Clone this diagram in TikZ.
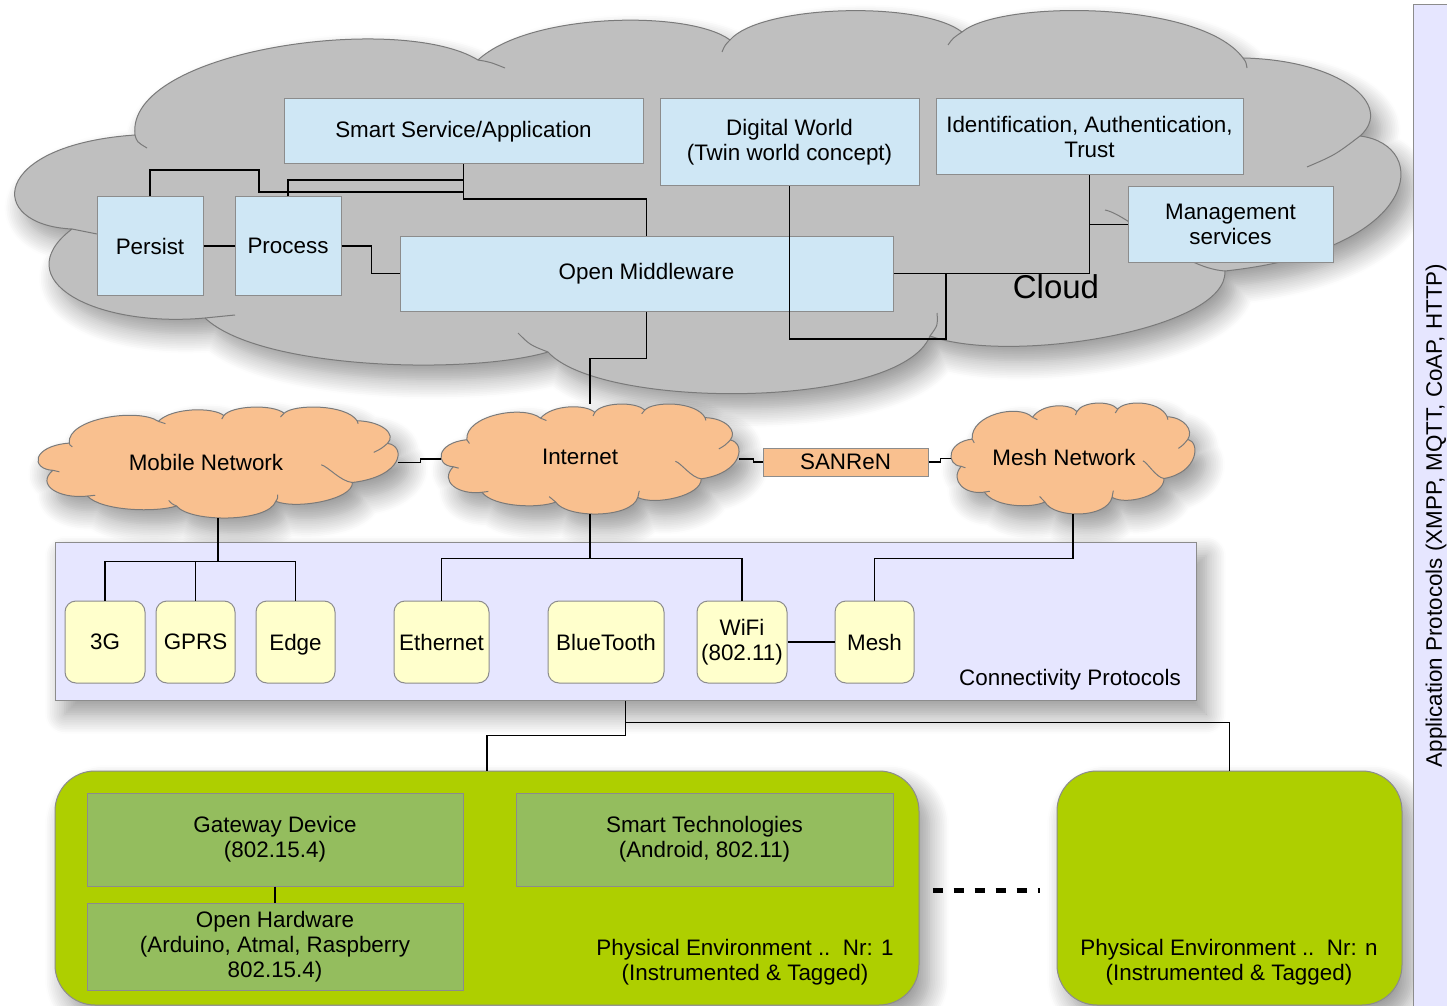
\documentclass[tikz,border=0pt]{standalone}
\usepackage{fontspec}
\setmainfont{Liberation Sans}
\usetikzlibrary{fit,shadows.blur}

\definecolor{cloudgray}{HTML}{BFBFBF}
\definecolor{cloudedge}{HTML}{7A7A7A}
\definecolor{boxblue}{HTML}{CFE7F5}
\definecolor{boxedge}{HTML}{8C8C8C}
\definecolor{peach}{HTML}{F9C08F}
\definecolor{lavender}{HTML}{E6E6FF}
\definecolor{paleyellow}{HTML}{FFFFCC}
\definecolor{lime}{HTML}{AECF00}
\definecolor{olive}{HTML}{94BD5E}

% outline of a cloud (lobes joined at cusps), in pixel-like units
\def\cloudoutline{(72,229) .. controls (-15,225) and (-10,145) .. (135,135)
  .. controls (125,50) and (400,12) .. (478,60)
  .. controls (530,12) and (690,10) .. (730,40)
  .. controls (760,5) and (920,0) .. (962,32)
  .. controls (1000,0) and (1200,0) .. (1243,58)
  .. controls (1340,60) and (1395,105) .. (1360,136)
  .. controls (1432,145) and (1422,250) .. (1225,271)
  .. controls (1228,330) and (1010,365) .. (930,336)
  .. controls (900,410) and (600,410) .. (548,352)
  .. controls (470,375) and (260,370) .. (205,318)
  .. controls (95,328) and (5,280) .. (72,229) -- cycle}
% short inner arcs where the lobes overlap
\def\cloudtails{(135,135) .. controls (137,142) .. (147,148)
  (478,60) .. controls (490,62) .. (505,68)
  (730,40) .. controls (725,45) .. (722,52)
  (962,32) .. controls (953,38) .. (948,45)
  (1243,58) .. controls (1246,62) .. (1247,68)
  (1360,136) .. controls (1335,155) .. (1307,167)
  (1225,271) .. controls (1180,268) and (1130,215) .. (1105,210)
  (930,336) .. controls (938,325) .. (937,313)
  (548,352) .. controls (530,345) .. (518,333)
  (205,318) .. controls (220,316) .. (235,315)
  (72,229) .. controls (85,231) .. (97,234)}

\begin{document}
\begin{tikzpicture}[x=0.5pt,y=-0.5pt,
  every node/.style={font=\fontsize{11.2}{12.6}\selectfont},
  every label/.style={align=center},
  thinrim/.style={draw=boxedge, line width=0.5pt},
  bluebox/.style={thinrim, fill=boxblue, inner sep=0pt},
  peachbox/.style={thinrim, fill=peach, inner sep=0pt},
  protobox/.style={thinrim, fill=lavender, inner sep=0pt},
  chip/.style={thinrim, fill=paleyellow, rounded corners=5.5pt, inner sep=0pt},
  envbox/.style={thinrim, fill=lime, rounded corners=20pt, inner sep=0pt},
  devbox/.style={thinrim, fill=olive, inner sep=0pt},
  spot/.style={inner sep=0pt},
  conn/.style={draw=black, line width=0.55pt},
  softshadow/.style={blur shadow={shadow xshift=5pt, shadow yshift=-7pt,
      shadow blur radius=10pt, shadow opacity=42, shadow blur steps=12}},
  cloudskin/.style={draw=cloudedge, line width=0.5pt, line join=round},
]
\useasboundingbox (0,0) rectangle (1447,1006);

% the cloud
\path[fill=cloudgray, cloudskin, softshadow] \cloudoutline;
\draw[cloudskin] \cloudtails;

\draw[conn] (463.5,164) -- ++(0,35) -| (646.5,236);

\node[bluebox, fit={(284,99) (643,164)}, label=center:Smart Service/Application] (smart) {};
\node[bluebox, fit={(660,99) (919,186)}, label=center:{Digital World\\(Twin world concept)}] (digital) {};
\node[bluebox, fit={(936,99) (1243,175)}, label=center:{Identification, Authentication,\\Trust}] (ident) {};
\node[bluebox, fit={(1128,187) (1333,262)}, label=center:{Management\\services}] (mgmt) {};
\node[bluebox, fit={(97,197) (203,295)}, label=center:Persist] (persist) {};
\node[bluebox, fit={(235,197) (341,295)}, label=center:Process] (process) {};
\node[bluebox, fit={(400,236) (893,311)}, label=center:Open Middleware] (middleware) {};

\draw[conn] (persist.north) |- (259,170) |- (smart.south |- 0,192);
\draw[conn] (process.north) |- (smart.south |- 0,180);
\draw[conn] (persist.east) -- (process.west);
\draw[conn] (process.east) -- ++(30,0) |- (middleware.west);
\draw[conn] (middleware.east) -| (ident.south);
\draw[conn] (mgmt.west) -- (ident.south |- mgmt.west);
\draw[conn] (digital.south) |- (946,339) -- (middleware.east -| 946,0);

\node[font=\fontsize{16.5}{19}\selectfont] at (1056,287) {Cloud};

% network clouds
\begin{scope}[shift={(34.18,403.96)}]
  \begin{scope}[x=0.1299pt, y=-0.1449pt]
    \path[fill=peach, cloudskin, softshadow] \cloudoutline;
    \draw[cloudskin] \cloudtails;
  \end{scope}
\end{scope}
\node[spot, fit={(38,407) (398,518)}] (mobile) {};
\node at (206,462) {Mobile Network};

\begin{scope}[shift={(437.84,400.98)}]
  \begin{scope}[x=0.1075pt, y=-0.1436pt]
    \path[fill=peach, cloudskin, softshadow] \cloudoutline;
    \draw[cloudskin] \cloudtails;
  \end{scope}
\end{scope}
\node[spot, fit={(441,404) (739,514)}] (internet) {};
\node at (580,457) {Internet};

\begin{scope}[shift={(948.41,399.96)}]
  \begin{scope}[x=0.0880pt, y=-0.1449pt]
    \path[fill=peach, cloudskin, softshadow] \cloudoutline;
    \draw[cloudskin] \cloudtails;
  \end{scope}
\end{scope}
\node[spot, fit={(951,403) (1195,514)}] (meshnet) {};
\node at (1064,457) {Mesh Network};

\node[peachbox, fit={(763,448) (928,476)}, label=center:SANReN] (sanren) {};

\draw[conn] (middleware.south) -- ++(0,47) -| (internet.north);
\draw[conn] (mobile.east) -- ++(22,0) |- (internet.west);
\draw[conn] (internet.east) -- ++(14,0) |- (sanren.west);
\draw[conn] (sanren.east) -- ++(12,0) |- (meshnet.west);

% connectivity protocols
\node[protobox, softshadow, fit={(55,542) (1196,700)}] (proto) {};
\node at (1070,680) {Connectivity Protocols};

\node[chip, fit={(65,601) (145,683)}, label=center:3G] (g3) {};
\node[chip, fit={(156,601) (235,683)}, label=center:GPRS] (gprs) {};
\node[chip, fit={(256,601) (335,683)}, label={[text depth=0pt]center:Edge}] (edgechip) {};
\node[chip, fit={(394,601) (489,683)}, label=center:Ethernet] (eth) {};
\node[chip, fit={(548,601) (664,683)}, label=center:BlueTooth] (bt) {};
\node[chip, fit={(697,601) (787,683)}, label=center:{WiFi\\(802.11)}] (wifi) {};
\node[chip, fit={(835,601) (914,683)}, label=center:Mesh] (meshchip) {};

\draw[conn] (mobile.south) -- ++(0,43) coordinate (mj);
\draw[conn] (mj) -| (g3.north);
\draw[conn] (mj) -| (gprs.north);
\draw[conn] (mj) -| (edgechip.north);
\draw[conn] (internet.south) -- ++(0,44) coordinate (ij);
\draw[conn] (ij) -| (eth.north);
\draw[conn] (ij) -| (wifi.north);
\draw[conn] (meshnet.south) -- ++(0,44) -| (meshchip.north);
\draw[conn] (wifi.east) -- (meshchip.west);

% physical environments
\node[envbox, softshadow, fit={(55,771) (919,1005)}] (envone) {};
\node[envbox, softshadow, fit={(1057,771) (1402,1005)}] (envn) {};
\node[devbox, fit={(87,793) (463,886)}, label=center:{Gateway Device\\(802.15.4)}] (gateway) {};
\node[devbox, fit={(87,903) (463,990)}, label=center:{Open Hardware\\(Arduino, Atmal, Raspberry\\802.15.4)}] (openhw) {};
\node[devbox, fit={(516,793) (893,886)}, label=center:{Smart Technologies\\(Android, 802.11)}] (smarttech) {};
\node[align=center] at (745,962) {Physical Environment ..\ \ Nr: 1\\(Instrumented \& Tagged)};
\node[align=center] at (1229,962) {Physical Environment ..\ \ Nr: n\\(Instrumented \& Tagged)};

\draw[conn] (gateway.south) -- (openhw.north);
\draw[conn] (proto.south) -- ++(0,22) coordinate (pj);
\draw[conn] (pj) -| (envn.north);
\draw[conn] (pj) -- ++(0,13) -| (envone.north);

\draw[black, line width=2.5pt, dash pattern=on 5pt off 5.5pt,
  shorten <=6.5pt, shorten >=8.5pt] ([yshift=-1pt]envone.east) -- ([yshift=-1pt]envn.west);

% application protocol band on the right
\node[thinrim, fill=lavender, inner sep=0pt, fit={(1413,5) (1462,1016)}] (apps) {};
\node[rotate=90] at (1436,515.5) {Application Protocols (XMPP, MQTT, CoAP, HTTP)};
\end{tikzpicture}
\end{document}
